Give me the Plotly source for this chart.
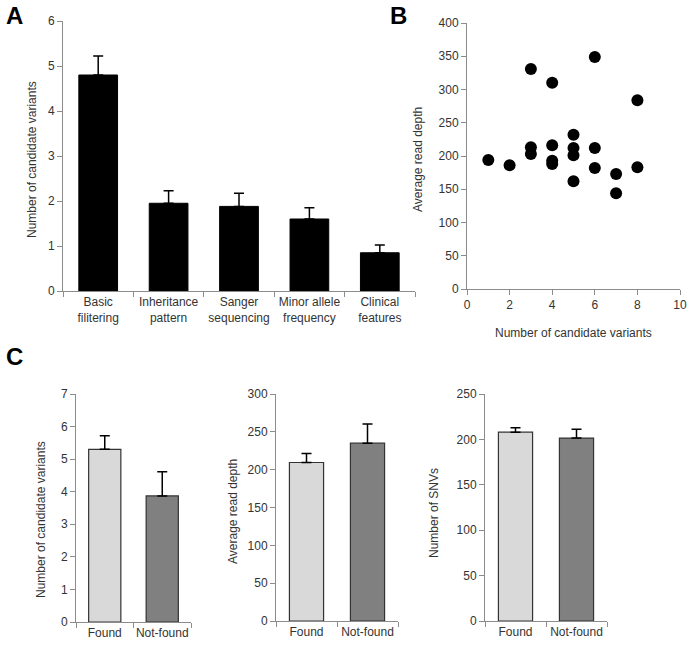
import plotly.graph_objects as go

W, H = 689, 646

# Panel A data
a_categories = ["Basic<br>filitering", "Inheritance<br>pattern", "Sanger<br>sequencing",
                "Minor allele<br>frequency", "Clinical<br>features"]
a_values = [4.8, 1.95, 1.88, 1.6, 0.85]
a_err_plus = [0.42, 0.28, 0.29, 0.25, 0.17]

# Panel B data
b_x = [1, 2, 3, 3, 3, 4, 4, 4, 4, 5, 5, 5, 5, 6, 6, 6, 7, 7, 8, 8]
b_y = [194, 186, 331, 213, 203, 310, 216, 193, 188, 232, 212, 201, 162, 349, 212, 182, 173, 144, 284, 183]

# Panel C data
c_groups = ["Found", "Not-found"]
c1_values = [5.3, 3.87]
c1_err = [0.42, 0.74]
c2_values = [209.5, 235]
c2_err = [12, 25.5]
c3_values = [208, 201.5]
c3_err = [4.8, 9.7]

FONT = "Liberation Sans, Arial, sans-serif"
AXC = "#8c8c8c"
TXT = "#333333"

def px_x(x):
    return x / W

def px_y(y):
    return 1 - y / H

fig = go.Figure()

fig.add_trace(go.Bar(x=a_categories, y=a_values, width=0.55,
                     marker=dict(color="black", line=dict(color="black", width=1)),
                     error_y=dict(type="data", symmetric=False, array=a_err_plus,
                                  arrayminus=[0]*5, color="black", thickness=1.5, width=5),
                     xaxis="x", yaxis="y", showlegend=False))

fig.add_trace(go.Scatter(x=b_x, y=b_y, mode="markers",
                         marker=dict(color="black", size=12),
                         xaxis="x2", yaxis="y2", showlegend=False))

cols = ["#d9d9d9", "#808080"]
for i, (vals, errs) in enumerate([(c1_values, c1_err), (c2_values, c2_err), (c3_values, c3_err)]):
    n = i + 3
    fig.add_trace(go.Bar(x=c_groups, y=vals, width=0.56,
                         marker=dict(color=cols, line=dict(color="#333333", width=1.2)),
                         error_y=dict(type="data", symmetric=False, array=errs,
                                      arrayminus=[0, 0], color="black", thickness=1.5, width=5),
                         xaxis=f"x{n}", yaxis=f"y{n}", showlegend=False))

common_y = dict(showline=True, linecolor=AXC, linewidth=1, ticks="outside", tickcolor=AXC,
                ticklen=5, showgrid=False, zeroline=False, automargin=False,
                tickfont=dict(family=FONT, size=12, color=TXT))
common_x_cat = dict(showline=True, linecolor=AXC, linewidth=1, ticks="outside", tickcolor=AXC,
                    ticklen=5, tickson="boundaries", showgrid=False, zeroline=False,
                    automargin=False, tickangle=0,
                    tickfont=dict(family=FONT, size=12, color=TXT))

layout = dict(
    width=W, height=H, margin=dict(l=0, r=0, t=0, b=0, pad=0, autoexpand=False),
    paper_bgcolor="white", plot_bgcolor="white", bargap=0.45,
    xaxis=dict(domain=[px_x(63), px_x(415)], anchor="y", range=[-0.5, 4.5], **common_x_cat),
    yaxis=dict(domain=[px_y(291), px_y(21)], anchor="x", range=[0, 6], dtick=1, **common_y),
    xaxis2=dict(domain=[px_x(467), px_x(680)], anchor="y2", range=[0, 10], dtick=2,
                tickangle=0, **common_y),
    yaxis2=dict(domain=[px_y(289), px_y(23)], anchor="x2", range=[0, 400], dtick=50, **common_y),
    xaxis3=dict(domain=[px_x(76), px_x(191)], anchor="y3", range=[-0.5, 1.5], **common_x_cat),
    yaxis3=dict(domain=[px_y(622), px_y(394)], anchor="x3", range=[0, 7], dtick=1, **common_y),
    xaxis4=dict(domain=[px_x(276), px_x(398)], anchor="y4", range=[-0.5, 1.5], **common_x_cat),
    yaxis4=dict(domain=[px_y(621), px_y(394)], anchor="x4", range=[0, 300], dtick=50, **common_y),
    xaxis5=dict(domain=[px_x(485), px_x(607)], anchor="y5", range=[-0.5, 1.5], **common_x_cat),
    yaxis5=dict(domain=[px_y(621), px_y(394)], anchor="x5", range=[0, 250], dtick=50, **common_y),
)
fig.update_layout(**layout)

def ann(text, x, y, size=12, angle=0, bold=False, color=TXT):
    fig.add_annotation(text=f"<b>{text}</b>" if bold else text,
                       x=px_x(x), y=px_y(y), xref="paper", yref="paper",
                       xanchor="center", yanchor="middle", showarrow=False,
                       textangle=angle, font=dict(family=FONT, size=size, color=color))

ann("A", 14, 16, size=24, bold=True, color="black")
ann("B", 398, 15, size=24, bold=True, color="black")
ann("C", 14, 356, size=24, bold=True, color="black")

ann("Number of candidate variants", 32, 160, angle=-90)
ann("Average read depth", 418, 160, angle=-90)
ann("Number of candidate variants", 573, 333)
ann("Number of candidate variants", 41, 520, angle=-90)
ann("Average read depth", 233, 512, angle=-90)
ann("Number of SNVs", 434, 513, angle=-90)

fig.write_html("out.html", config={"displayModeBar": False},
               post_script="document.body.style.margin='0';document.body.style.overflow='hidden';")
